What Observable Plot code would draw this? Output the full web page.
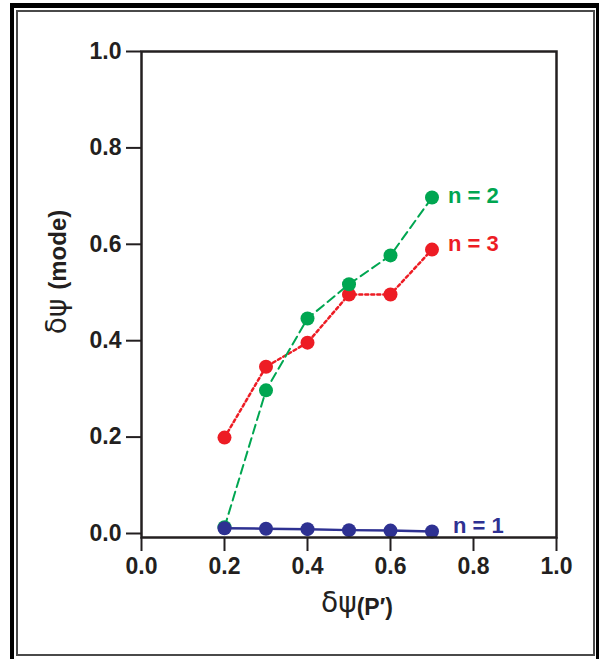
<!DOCTYPE html>
<html><head><meta charset="utf-8">
<script src="https://cdn.jsdelivr.net/npm/d3@7"></script>
<script src="https://cdn.jsdelivr.net/npm/@observablehq/plot@0.6"></script>
<style>
html,body{margin:0;padding:0;background:#fff;}
#wrap{position:relative;width:599px;height:659px;overflow:hidden;}
#outer{position:absolute;left:10px;top:3px;width:589px;height:670px;border-left:4px solid #000;border-top:5px solid #000;border-right:3px solid #000;box-sizing:border-box;}
#inner{position:absolute;left:16px;top:10px;width:579px;height:646px;border:2px solid #4a4a4a;box-sizing:border-box;}
#chart{position:absolute;left:0;top:0;}
</style>
</head><body>
<div id="wrap"><div id="outer"></div><div id="inner"></div><div id="chart"></div></div>
<script>
const xVals = [0.2, 0.3, 0.4, 0.5, 0.6, 0.7];
const n1 = [0.011, 0.010, 0.009, 0.007, 0.006, 0.004];
const n2 = [0.013, 0.297, 0.446, 0.517, 0.577, 0.697];
const n3 = [0.199, 0.346, 0.396, 0.496, 0.496, 0.589];
const xTicks = [0, 0.2, 0.4, 0.6, 0.8, 1.0];
const yTicks = [0, 0.2, 0.4, 0.6, 0.8, 1.0];
const seriesNames = ["n = 1", "n = 2", "n = 3"];
const seriesColors = ["#2E3192", "#00A651", "#ED1C24"];

const rows = (vals, name) => xVals.map((x, i) => ({x, y: vals[i], s: name}));
const d1 = rows(n1, seriesNames[0]);
const d2 = rows(n2, seriesNames[1]);
const d3r = rows(n3, seriesNames[2]);
const last = arr => [arr[arr.length - 1]];

const font = "'Liberation Sans', Arial, sans-serif";
const fmt = d => d.toFixed(1);

const chart = Plot.plot({
  width: 599, height: 659,
  marginLeft: 141, marginRight: 43, marginTop: 51, marginBottom: 122,
  x: {domain: [0, 1]},
  y: {domain: [-0.0083, 1]},
  style: {fontFamily: font, fontWeight: "bold", fontSize: "23px", color: "#231f20", background: "transparent", overflow: "visible"},
  marks: [
    Plot.axisX({ticks: xTicks, tickFormat: fmt, tickSize: 14, tickPadding: 6, strokeWidth: 2, label: null, fontSize: 23}),
    Plot.axisY({ticks: yTicks, tickFormat: fmt, tickSize: 15, tickPadding: 5, strokeWidth: 2, label: null, fontSize: 23}),
    Plot.line(d3r, {x: "x", y: "y", stroke: seriesColors[2], strokeWidth: 2.5, strokeDasharray: "3,3"}),
    Plot.dot(d3r, {x: "x", y: "y", r: 7, fill: seriesColors[2]}),
    Plot.line(d2, {x: "x", y: "y", stroke: seriesColors[1], strokeWidth: 2, strokeDasharray: "9,5"}),
    Plot.dot(d2, {x: "x", y: "y", r: 7, fill: seriesColors[1]}),
    Plot.line(d1, {x: "x", y: "y", stroke: seriesColors[0], strokeWidth: 2.5}),
    Plot.dot(d1, {x: "x", y: "y", r: 7, fill: seriesColors[0]}),
    Plot.frame({stroke: "#231f20", strokeWidth: 2.5}),
    Plot.text(last(d2), {x: "x", y: "y", text: "s", fill: seriesColors[1], textAnchor: "start", dx: 16, dy: -2, fontSize: 22, fontWeight: "bold"}),
    Plot.text(last(d3r), {x: "x", y: "y", text: "s", fill: seriesColors[2], textAnchor: "start", dx: 16, dy: -6, fontSize: 22, fontWeight: "bold"}),
    Plot.text(last(d1), {x: "x", y: "y", text: "s", fill: seriesColors[0], textAnchor: "start", dx: 21, dy: -6, fontSize: 22, fontWeight: "bold"})
  ]
});
document.getElementById("chart").appendChild(chart);

const svg = d3.select(chart);
// x title
const xt = svg.append("text").attr("x", 357).attr("y", 612).attr("text-anchor", "middle").attr("fill", "#231f20");
xt.append("tspan").attr("font-family", "'DejaVu Sans', sans-serif").attr("font-weight", "normal").attr("font-size", 28).text("δψ");
xt.append("tspan").attr("font-family", font).attr("font-weight", "bold").attr("font-size", 23).attr("dy", 3).text("(P′)");
// y title
const yt = svg.append("text").attr("transform", "translate(66,272) rotate(-90)").attr("text-anchor", "middle").attr("fill", "#231f20");
yt.append("tspan").attr("font-family", "'DejaVu Sans', sans-serif").attr("font-weight", "normal").attr("font-size", 28).text("δψ ");
yt.append("tspan").attr("font-family", font).attr("font-weight", "bold").attr("font-size", 24).text("(mode)");
</script>
</body></html>
